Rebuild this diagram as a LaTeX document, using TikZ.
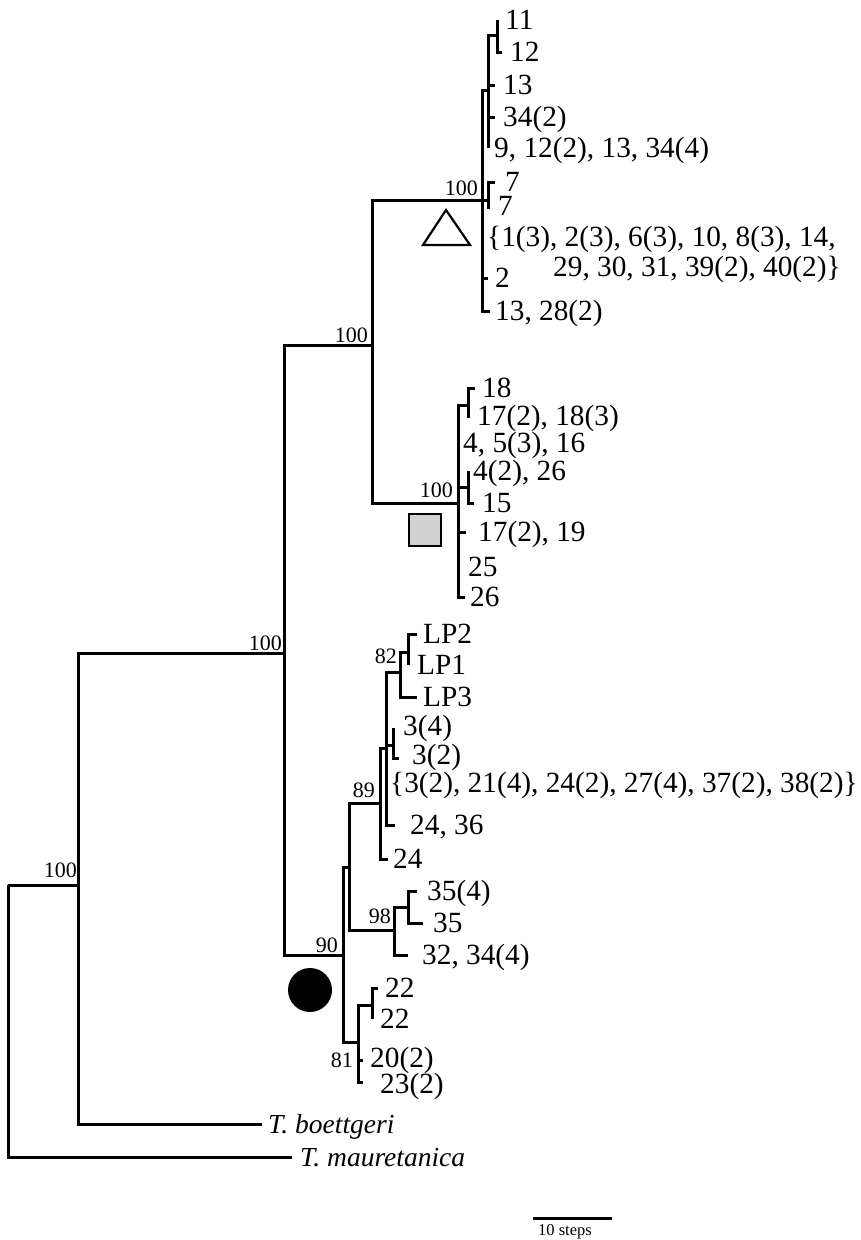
\documentclass[tikz,border=0pt]{standalone}
\usepackage{fontspec}
\setmainfont{Liberation Serif}
\usetikzlibrary{positioning}

\begin{document}
\begin{tikzpicture}[x=1pt, y=-1pt,
        br/.style={line width=3pt},
        lab/.style={inner sep=0pt, text height=19.8pt, text depth=0pt,
                font=\fontsize{29.3}{31}\selectfont},
        sp/.style={lab, font=\fontsize{27.5}{30}\selectfont\itshape},
        bs/.style={inner sep=0pt, anchor=base east,
                font=\fontsize{22}{24}\selectfont}]

    \useasboundingbox (0,0) rectangle (860,1240);

    % internal nodes (x of vertical, y of incoming branch)
    \coordinate (root)   at (8,885);
    \coordinate (ingrp)  at (78,885);
    \coordinate (core)   at (284,653);
    \coordinate (upper)  at (372,345);
    \coordinate (tri)    at (482,200);
    \coordinate (triA)   at (488,90);
    \coordinate (triB)   at (497,35);
    \coordinate (triC)   at (488,200);
    \coordinate (sq)     at (458,503);
    \coordinate (sqA)    at (468,405);
    \coordinate (sqB)    at (468,487);
    \coordinate (dot)    at (343,955);
    \coordinate (dotA)   at (349,867);
    \coordinate (lpgrp)  at (380,803);
    \coordinate (lpA)    at (386,748);
    \coordinate (lpB)    at (400,672);
    \coordinate (lpC)    at (408,652);
    \coordinate (lpD)    at (393,745);
    \coordinate (grp98)  at (394,930);
    \coordinate (grp98A) at (408,907);
    \coordinate (grp81)  at (358,1042);
    \coordinate (grp81A) at (372,1005);

    % tips
    \coordinate (t11)   at (497,20);
    \coordinate (t12)   at (502,52);
    \coordinate (t13)   at (495,85);
    \coordinate (t34)   at (495,117);
    \coordinate (t9)    at (488,148);
    \coordinate (t7a)   at (495,182);
    \coordinate (t7b)   at (488,209);
    \coordinate (tbr)   at (482,237);
    \coordinate (t2)    at (488,278);
    \coordinate (t13b)  at (490,311);
    \coordinate (t18)   at (475,388);
    \coordinate (t17a)  at (468,418);
    \coordinate (t4a)   at (458,443);
    \coordinate (t4b)   at (468,471);
    \coordinate (t15)   at (474,503);
    \coordinate (t17b)  at (466,532);
    \coordinate (t25)   at (458,567);
    \coordinate (t26)   at (465,597);
    \coordinate (tLP2)  at (417,634);
    \coordinate (tLP1)  at (408,665);
    \coordinate (tLP3)  at (417,697);
    \coordinate (t3a)   at (393,728);
    \coordinate (t3b)   at (399,758);
    \coordinate (t3c)   at (386,783);
    \coordinate (t24a)  at (395,825);
    \coordinate (t24b)  at (388,859);
    \coordinate (t35a)  at (417,891);
    \coordinate (t35b)  at (423,923);
    \coordinate (t32)   at (408,955);
    \coordinate (t22a)  at (378,988);
    \coordinate (t22b)  at (372,1019);
    \coordinate (t20)   at (363,1060);
    \coordinate (t23)   at (363,1082);
    \coordinate (tboe)  at (262,1124);
    \coordinate (tmau)  at (292,1157);

    % branches
    \draw[br] (root) |- (tmau)  (root) |- (ingrp);
    \draw[br] (ingrp) |- (core)  (ingrp) |- (tboe);
    \draw[br] (core) |- (upper)  (core) |- (dot);
    \draw[br] (upper) |- (tri)  (upper) |- (sq);
    \draw[br] (tri) |- (triA)  (tri) |- (triC)  (tri) |- (tbr)  (tri) |- (t2)  (tri) |- (t13b);
    \draw[br] (triA) |- (triB)  (triA) |- (t13)  (triA) |- (t34)  (triA) |- (t9);
    \draw[br] (triB) |- (t11)  (triB) |- (t12);
    \draw[br] (triC) |- (t7a)  (triC) |- (t7b);
    \draw[br] (sq) |- (sqA)  (sq) |- (t4a)  (sq) |- (sqB)  (sq) |- (t17b)  (sq) |- (t25)  (sq) |- (t26);
    \draw[br] (sqA) |- (t18)  (sqA) |- (t17a);
    \draw[br] (sqB) |- (t4b)  (sqB) |- (t15);
    \draw[br] (dot) |- (dotA)  (dot) |- (grp81);
    \draw[br] (dotA) |- (lpgrp)  (dotA) |- (grp98);
    \draw[br] (lpgrp) |- (lpA)  (lpgrp) |- (t24b);
    \draw[br] (lpA) |- (lpB)  (lpA) |- (lpD)  (lpA) |- (t3c)  (lpA) |- (t24a);
    \draw[br] (lpB) |- (lpC)  (lpB) |- (tLP3);
    \draw[br] (lpC) |- (tLP2)  (lpC) |- (tLP1);
    \draw[br] (lpD) |- (t3a)  (lpD) |- (t3b);
    \draw[br] (grp98) |- (grp98A)  (grp98) |- (t32);
    \draw[br] (grp98A) |- (t35a)  (grp98A) |- (t35b);
    \draw[br] (grp81) |- (grp81A)  (grp81) |- (t20)  (grp81) |- (t23);
    \draw[br] (grp81A) |- (t22a)  (grp81A) |- (t22b);

    % tip labels
    \node[lab, right=8pt of t11]  (l11)  {11};
    \node[lab, right=8pt of t12]  (l12)  {12};
    \node[lab, right=8pt of t13]  (l13)  {13};
    \node[lab, right=8pt of t34]  (l34)  {34(2)};
    \node[lab, right=6pt of t9]   (l9)   {9, 12(2), 13, 34(4)};
    \node[lab, right=10pt of t7a] (l7a)  {7};
    \node[lab, right=10pt of t7b, yshift=3pt] (l7b) {7};
    \node[lab, right=5pt of tbr]  (lbr)  {\{1(3), 2(3), 6(3), 10, 8(3), 14,};
    \node[lab, anchor=west] (lbr2) at (553,267) {29, 30, 31, 39(2), 40(2)\}};
    \node[lab, right=7pt of t2]   (l2)   {2};
    \node[lab, right=5pt of t13b] (l13b) {13, 28(2)};
    \node[lab, right=7pt of t18]  (l18)  {18};
    \node[lab, right=9pt of t17a, yshift=2pt] (l17a) {17(2), 18(3)};
    \node[lab, right=5pt of t4a]  (l4a)  {4, 5(3), 16};
    \node[lab, right=5pt of t4b]  (l4b)  {4(2), 26};
    \node[lab, right=8pt of t15]  (l15)  {15};
    \node[lab, right=12pt of t17b] (l17b) {17(2), 19};
    \node[lab, right=10pt of t25] (l25)  {25};
    \node[lab, right=5pt of t26]  (l26)  {26};
    \node[lab, right=6pt of tLP2] (lLP2) {LP2};
    \node[lab, right=9pt of tLP1] (lLP1) {LP1};
    \node[lab, right=6pt of tLP3] (lLP3) {LP3};
    \node[lab, right=10pt of t3a, yshift=2pt] (l3a) {3(4)};
    \node[lab, right=13pt of t3b, yshift=3pt] (l3b) {3(2)};
    \node[lab, right=4pt of t3c]  (l3c)  {\{3(2), 21(4), 24(2), 27(4), 37(2), 38(2)\}};
    \node[lab, right=15pt of t24a] (l24a) {24, 36};
    \node[lab, right=5pt of t24b] (l24b) {24};
    \node[lab, right=10pt of t35a] (l35a) {35(4)};
    \node[lab, right=10pt of t35b] (l35b) {35};
    \node[lab, right=14pt of t32] (l32)  {32, 34(4)};
    \node[lab, right=7pt of t22a] (l22a) {22};
    \node[lab, right=8pt of t22b] (l22b) {22};
    \node[lab, right=7pt of t20, yshift=2pt] (l20) {20(2)};
    \node[lab, right=17pt of t23, yshift=-2pt] (l23) {23(2)};
    \node[sp, right=6pt of tboe]  (lboe) {T. boettgeri};
    \node[sp, right=8pt of tmau]  (lmau) {T. mauretanica};

    % bootstrap values
    \node[bs] (bsTri)   at (478,195)  {100};
    \node[bs] (bsUpper) at (368,342)  {100};
    \node[bs] (bsCore)  at (282,650)  {100};
    \node[bs] (bsIn)    at (77,877)   {100};
    \node[bs] (bsSq)    at (453,497)  {100};
    \node[bs] (bs82)    at (397,663)  {82};
    \node[bs] (bs89)    at (375,797)  {89};
    \node[bs] (bs98)    at (391,923)  {98};
    \node[bs] (bs90)    at (338,952)  {90};
    \node[bs] (bs81)    at (353,1067) {81};

    % clade markers
    \draw[line width=2.2pt, fill=white] (423,245) -- (470,245) -- (446,210) -- cycle;
    \node[draw, line width=2pt, fill=gray!35, minimum size=32pt, inner sep=0pt]
        (sqmark) at (425,530) {};
    \node[circle, fill=black, minimum size=44pt, inner sep=0pt] (dotmark) at (310,990) {};

    % scale bar
    \coordinate (sbl) at (533,1218);
    \coordinate (sbr) at (612,1218);
    \draw[line width=3pt] (sbl) -- (sbr);
    \node[inner sep=0pt, anchor=north, font=\fontsize{16.5}{18}\selectfont]
        (steps) at (565,1224) {10 steps};
\end{tikzpicture}
\end{document}
